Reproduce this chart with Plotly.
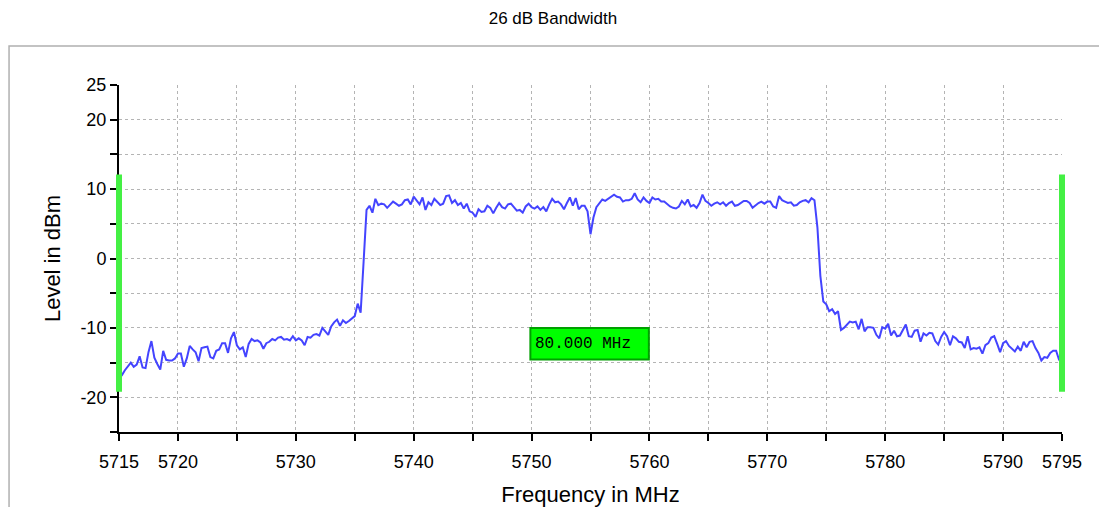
import numpy as np
import plotly.graph_objects as go

# ---------------- data ----------------
freq_start_mhz = 5715.0
freq_stop_mhz = 5795.0
level_min_db = -25.0
level_max_db = 25.0

level_low_skirt = [  # 5715.00 .. 5736.00
    -17.3, -16.8, -16.1, -15.6, -15.0, -15.6, -15.3, -14.1, -15.7, -15.8,
    -13.5, -11.9, -14.3, -15.2, -16.0, -13.3, -14.6, -14.7, -14.7, -14.4,
    -13.7, -13.7, -15.6, -14.4, -12.6, -13.1, -13.5, -14.8, -12.9, -12.8,
    -12.7, -14.2, -14.4, -13.3, -13.1, -12.2, -12.2, -13.6, -11.5, -10.6,
    -12.5, -13.1, -12.8, -14.2, -12.3, -11.6, -11.9, -11.8, -12.1, -13.0,
    -12.2, -12.0, -11.6, -11.8, -11.4, -11.3, -11.7, -11.6, -11.8, -11.2,
    -11.8, -11.5, -11.8, -12.5, -11.3, -11.4, -11.0, -10.9, -11.1, -10.0,
    -10.5, -11.0, -9.8, -9.2, -8.8, -9.7, -8.9, -9.3, -9.0, -8.7,
    -8.3, -6.5, -7.8, -0.5, 7.0,
]
level_channel = [  # 5736.25 .. 5774.00
    7.6, 6.6, 8.6, 7.7, 7.9, 7.8, 7.3, 7.7, 8.2, 7.9,
    7.6, 7.8, 8.4, 8.5, 7.8, 8.9, 8.3, 7.8, 8.8, 7.0,
    8.1, 7.7, 8.6, 8.2, 7.7, 7.9, 9.0, 9.1, 8.0, 8.4,
    7.7, 8.0, 7.2, 7.9, 6.8, 6.6, 6.0, 7.1, 6.7, 6.8,
    7.6, 7.3, 6.5, 7.3, 8.0, 7.4, 7.2, 7.8, 7.9, 7.4,
    6.9, 7.0, 6.6, 7.5, 7.9, 7.4, 7.2, 7.5, 7.0, 7.4,
    6.8, 7.8, 8.6, 8.1, 8.2, 7.8, 7.1, 8.0, 8.8, 7.6,
    8.7, 7.1, 7.6, 7.6, 6.8, 3.5, 5.9, 7.4, 8.0, 8.5,
    8.3, 8.6, 8.9, 9.2, 8.9, 8.8, 8.2, 8.4, 8.4, 8.6,
    9.4, 8.5, 8.1, 8.8, 8.3, 8.0, 8.8, 8.5, 8.6, 8.2,
    8.2, 7.8, 7.5, 7.3, 7.2, 7.5, 8.3, 7.8, 8.5, 7.5,
    7.7, 7.3, 8.0, 9.2, 8.3, 8.0, 7.6, 7.9, 8.1, 7.8,
    8.1, 7.6, 8.0, 8.2, 7.6, 7.7, 8.0, 8.3, 8.3, 8.0,
    7.3, 7.7, 8.0, 8.2, 7.9, 8.2, 8.2, 7.5, 7.3, 9.0,
    8.4, 8.2, 8.0, 8.1, 7.6, 7.7, 8.1, 8.3, 8.4, 8.1,
    8.7, 8.4,
]
level_high_skirt = [  # 5774.25 .. 5795.00
    4.5, -2.5, -6.2, -6.6, -7.6, -7.3, -8.0, -7.6, -10.3, -10.0,
    -9.6, -9.1, -9.2, -9.1, -10.2, -8.7, -10.5, -9.9, -9.9, -10.0,
    -11.0, -11.5, -9.9, -10.1, -9.4, -11.1, -10.4, -11.2, -11.1, -10.4,
    -9.5, -11.2, -11.3, -10.4, -10.3, -12.0, -10.8, -11.1, -10.7, -10.8,
    -11.9, -12.4, -11.3, -10.6, -11.2, -12.5, -11.2, -11.5, -12.0, -12.1,
    -12.9, -11.2, -13.1, -12.9, -13.0, -12.8, -13.7, -12.5, -12.2, -11.4,
    -11.2, -12.3, -13.5, -12.2, -11.9, -12.6, -13.0, -13.4, -12.7, -13.3,
    -12.0, -12.8, -12.0, -11.9, -12.9, -13.6, -14.7, -14.2, -14.3, -13.6,
    -13.3, -13.3, -14.6, -15.0,
]

level_dbm = level_low_skirt + level_channel + level_high_skirt
freq_mhz = np.linspace(freq_start_mhz, freq_stop_mhz, len(level_dbm))

# bandwidth markers (green bars) and result label
marker_freqs = [5715.0, 5795.0]
marker_level_low = -19.2
marker_level_high = 12.1
bandwidth_label = "80.000 MHz"

# axes
x_tickvals = [5715, 5720, 5725, 5730, 5735, 5740, 5745, 5750, 5755,
              5760, 5765, 5770, 5775, 5780, 5785, 5790, 5795]
x_ticktext = ["5715", "5720", "", "5730", "", "5740", "", "5750", "",
              "5760", "", "5770", "", "5780", "", "5790", "5795"]
y_tickvals = [-25, -20, -15, -10, -5, 0, 5, 10, 15, 20, 25]
y_ticktext = ["", "-20", "", "-10", "", "0", "", "10", "", "20", "25"]

# ---------------- figure ----------------
sans = "Liberation Sans, Arial, sans-serif"
mono = "Liberation Mono, DejaVu Sans Mono, monospace"


def xpaper(f):
    return (f - freq_start_mhz) / (freq_stop_mhz - freq_start_mhz)


def ypaper(v):
    return (v - level_min_db) / (level_max_db - level_min_db)


fig = go.Figure()
fig.add_trace(go.Scatter(
    x=freq_mhz, y=level_dbm, mode="lines",
    line=dict(color="#4444ff", width=2),
    showlegend=False, hoverinfo="skip",
))

for f in marker_freqs:
    fig.add_shape(type="line", xref="paper", yref="paper",
                  x0=xpaper(f), x1=xpaper(f),
                  y0=ypaper(marker_level_low), y1=ypaper(marker_level_high),
                  line=dict(color="#44f044", width=6), layer="above")

# bandwidth result box
fig.add_shape(type="rect", xref="x", yref="y",
              x0=5749.9, x1=5759.95, y0=-14.55, y1=-10.0,
              fillcolor="#00ff00", line=dict(color="#00a000", width=2),
              layer="above")
fig.add_annotation(x=5750.15, y=-12.3, xref="x", yref="y",
                   text=bandwidth_label, showarrow=False,
                   xanchor="left", yanchor="middle",
                   font=dict(family=mono, size=16, color="#000000"))

# outer panel border
fig.add_shape(type="rect", xref="paper", yref="paper",
              x0=-0.1166, x1=1.0403, y0=-0.25, y1=1.1124,
              line=dict(color="#b0b0b0", width=1.5), layer="below")

axis_common = dict(showline=True, linecolor="#000000", linewidth=2,
                   ticks="outside", ticklen=7, tickwidth=2, tickcolor="#000000",
                   showgrid=True, gridcolor="#b4b4b4", griddash="dot", gridwidth=1,
                   zeroline=False, mirror=False, automargin=False)

# the page body adds an 8 px offset; the figure is sized so the plot area
# lands at the same place as in the reference
fig.update_layout(
    width=1099, height=499, autosize=False,
    margin=dict(l=111, r=45, t=77, b=75, pad=0),
    paper_bgcolor="#ffffff", plot_bgcolor="#ffffff",
    title=dict(text="26 dB Bandwidth", x=(553 - 8) / 1099, xref="container",
               xanchor="center",
               y=1 - (18 - 8) / 499, yref="container", yanchor="middle",
               font=dict(family=sans, size=17, color="#000000")),
    xaxis=dict(range=[freq_start_mhz, freq_stop_mhz], tickvals=x_tickvals,
               ticktext=x_ticktext, ticklabelstandoff=5,
               tickfont=dict(family=sans, size=18, color="#000000"),
               title=dict(text="Frequency in MHz", standoff=20,
                          font=dict(family=sans, size=22, color="#000000")),
               **axis_common),
    yaxis=dict(range=[level_min_db, level_max_db], tickvals=y_tickvals,
               ticktext=y_ticktext,
               tickfont=dict(family=sans, size=18, color="#000000"),
               title=dict(text="Level in dBm", standoff=14,
                          font=dict(family=sans, size=22, color="#000000")),
               **axis_common),
    xaxis2=dict(overlaying="x", anchor="y", side="bottom",
                range=[freq_start_mhz, freq_stop_mhz], tickvals=x_tickvals,
                showticklabels=False, ticks="inside", ticklen=6, tickwidth=2,
                tickcolor="#000000", showgrid=False, showline=False,
                zeroline=False, automargin=False),
    yaxis2=dict(overlaying="y", anchor="x", side="left",
                range=[level_min_db, level_max_db], tickvals=y_tickvals,
                showticklabels=False, ticks="inside", ticklen=7, tickwidth=2,
                tickcolor="#000000", showgrid=False, showline=False,
                zeroline=False, automargin=False),
)

fig.write_html("out.html")
